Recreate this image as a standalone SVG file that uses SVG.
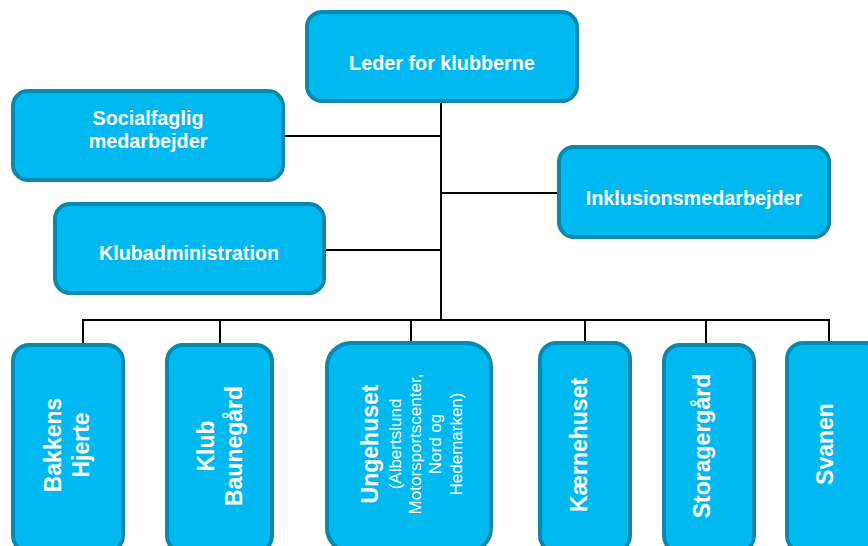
<svg xmlns="http://www.w3.org/2000/svg" width="868" height="546" viewBox="0 0 868 546">
<style>
.box{fill:#00B9F1;stroke:#0A88AE;stroke-width:4}
.t{font-family:"Liberation Sans",Arial,sans-serif;font-weight:bold;fill:#FFFFFF;text-anchor:middle}
.h{font-size:19.8px}
.v{font-size:23px}
.s{font-family:"Liberation Sans",Arial,sans-serif;font-size:17px;fill:#FFFFFF;text-anchor:middle}
.c{stroke:#000000;stroke-width:2;fill:none}
</style>
<rect width="868" height="546" fill="#FFFFFF"/>
<g id="connectors">
<path class="c" d="M441 103V320M285 136H441M326 250H441M441 193H557M82 320H830M83 320V343M220 320V343M411 320V341M585 320V341M706 320V343M829 320V341"/>
</g>
<g id="leder">
<rect class="box" x="307" y="12" width="270" height="89" rx="15"/>
<text class="t h" x="442" y="70">Leder for klubberne</text>
</g>
<g id="socialfaglig">
<rect class="box" x="13" y="91" width="270" height="89" rx="15"/>
<text class="t h" x="148" y="125">Socialfaglig</text>
<text class="t h" x="148" y="148">medarbejder</text>
</g>
<g id="klubadministration">
<rect class="box" x="55" y="204" width="269" height="89" rx="15"/>
<text class="t h" x="189" y="260">Klubadministration</text>
</g>
<g id="inklusion">
<rect class="box" x="559" y="147" width="270" height="90" rx="15"/>
<text class="t h" x="694" y="205">Inklusionsmedarbejder</text>
</g>
<g id="bakkens">
<rect class="box" x="13" y="345" width="110" height="207" rx="16"/>
<text class="t v" transform="translate(0 445) rotate(-90)"><tspan x="0" y="61">Bakkens</tspan><tspan x="0" y="89">Hjerte</tspan></text>
</g>
<g id="baunegaard">
<rect class="box" x="167" y="345" width="105" height="207" rx="16"/>
<text class="t v" transform="translate(0 446) rotate(-90)"><tspan x="0" y="214">Klub</tspan><tspan x="0" y="242">Baunegård</tspan></text>
</g>
<g id="ungehuset">
<rect class="box" x="327" y="343" width="164" height="209" rx="24"/>
<text class="t v" transform="translate(0 444) rotate(-90)" x="0" y="378">Ungehuset</text>
<text class="s" transform="translate(0 444) rotate(-90)"><tspan x="0" y="401">(Albertslund</tspan><tspan x="0" y="421">Motorsportscenter,</tspan><tspan x="0" y="441">Nord og</tspan><tspan x="0" y="462">Hedemarken)</tspan></text>
</g>
<g id="kaernehuset">
<rect class="box" x="540" y="343" width="90" height="209" rx="16"/>
<text class="t v" transform="translate(0 445) rotate(-90)" x="0" y="587">Kærnehuset</text>
</g>
<g id="storagergaard">
<rect class="box" x="664" y="345" width="90" height="207" rx="16"/>
<text class="t v" transform="translate(0 446) rotate(-90)" x="0" y="710">Storagergård</text>
</g>
<g id="svanen">
<rect class="box" x="787" y="343" width="95" height="209" rx="16"/>
<text class="t v" transform="translate(0 444) rotate(-90)" x="0" y="833">Svanen</text>
</g>
</svg>
